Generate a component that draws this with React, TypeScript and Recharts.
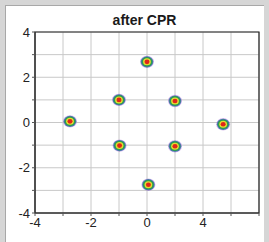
import { ScatterChart, Scatter, XAxis, YAxis, CartesianGrid, ReferenceArea } from 'recharts';

// constellation centres after carrier phase recovery
const xValues = [0, -1, 1, -2.75, 2.72, -0.98, 1, 0.05];
const yValues = [2.68, 1.0, 0.95, 0.05, -0.08, -1.02, -1.05, -2.75];

const gridTicks = [-4, -3, -2, -1, 0, 1, 2, 3, 4];
const xTickLabels: Record<number, string> = { '-4': '-4', '-2': '-2', '0': '0', '2': '4' };
const yTickLabels: Record<number, string> = { '-4': '-4', '-2': '-2', '0': '0', '2': '2', '4': '4' };

const points = xValues.map((x, i) => ({ x, y: yValues[i] }));

const font = '"Liberation Sans", Arial, sans-serif';

// density blob: purple/blue rim -> green -> yellow -> red core
function Blob(props: any) {
  const { cx, cy } = props;
  if (cx == null || cy == null) return null;
  return (
    <g>
      <ellipse cx={cx} cy={cy} rx={7} ry={6.2} fill="#9a5ad0" opacity={0.4} />
      <ellipse cx={cx} cy={cy} rx={6.3} ry={5.6} fill="#3a64b4" opacity={0.85} />
      <ellipse cx={cx} cy={cy} rx={5.5} ry={4.9} fill="#2a9c52" />
      <ellipse cx={cx} cy={cy} rx={3.9} ry={3.5} fill="#e4dc30" />
      <ellipse cx={cx} cy={cy} rx={2.5} ry={2.3} fill="#e0261a" />
    </g>
  );
}

export default function App() {
  return (
    <div style={{ position: 'fixed', left: 0, top: 0, width: 269, height: 242, background: '#d6d6d6' }}>
      <div
        style={{
          position: 'absolute',
          left: 5,
          top: 5,
          width: 258,
          height: 237,
          background: '#ffffff',
          borderLeft: '1px solid #a8a8a8',
          borderTop: '1px solid #a8a8a8',
        }}
      />
      <div
        style={{
          position: 'absolute',
          left: 0,
          top: 12,
          width: 289,
          textAlign: 'center',
          fontFamily: font,
          fontWeight: 'bold',
          fontSize: 14,
          color: '#1a1a1a',
        }}
      >
        after CPR
      </div>
      <div style={{ position: 'absolute', left: 0, top: 0 }}>
        <ScatterChart width={269} height={242} margin={{ top: 32, right: 10, bottom: 0, left: 5 }}>
          <CartesianGrid stroke="#c8c8c8" strokeWidth={1} />
          <XAxis
            type="number"
            dataKey="x"
            domain={[-4, 4]}
            ticks={gridTicks}
            interval={0}
            height={29}
            axisLine={{ stroke: '#333' }}
            tickLine={{ stroke: '#555' }}
            tickSize={3}
            tick={{ fill: '#222', fontSize: 13, fontFamily: font }}
            tickFormatter={(v: number) => xTickLabels[v] ?? ''}
          />
          <YAxis
            type="number"
            dataKey="y"
            domain={[-4, 4]}
            ticks={gridTicks}
            interval={0}
            width={30}
            axisLine={{ stroke: '#333' }}
            tickLine={{ stroke: '#555' }}
            tickSize={3}
            tick={{ fill: '#222', fontSize: 13, fontFamily: font }}
            tickFormatter={(v: number) => yTickLabels[v] ?? ''}
          />
          <ReferenceArea x1={-4} x2={4} y1={-4} y2={4} fill="none" stroke="#222" strokeWidth={1.2} />
          <Scatter data={points} shape={Blob} isAnimationActive={false} />
        </ScatterChart>
      </div>
    </div>
  );
}
